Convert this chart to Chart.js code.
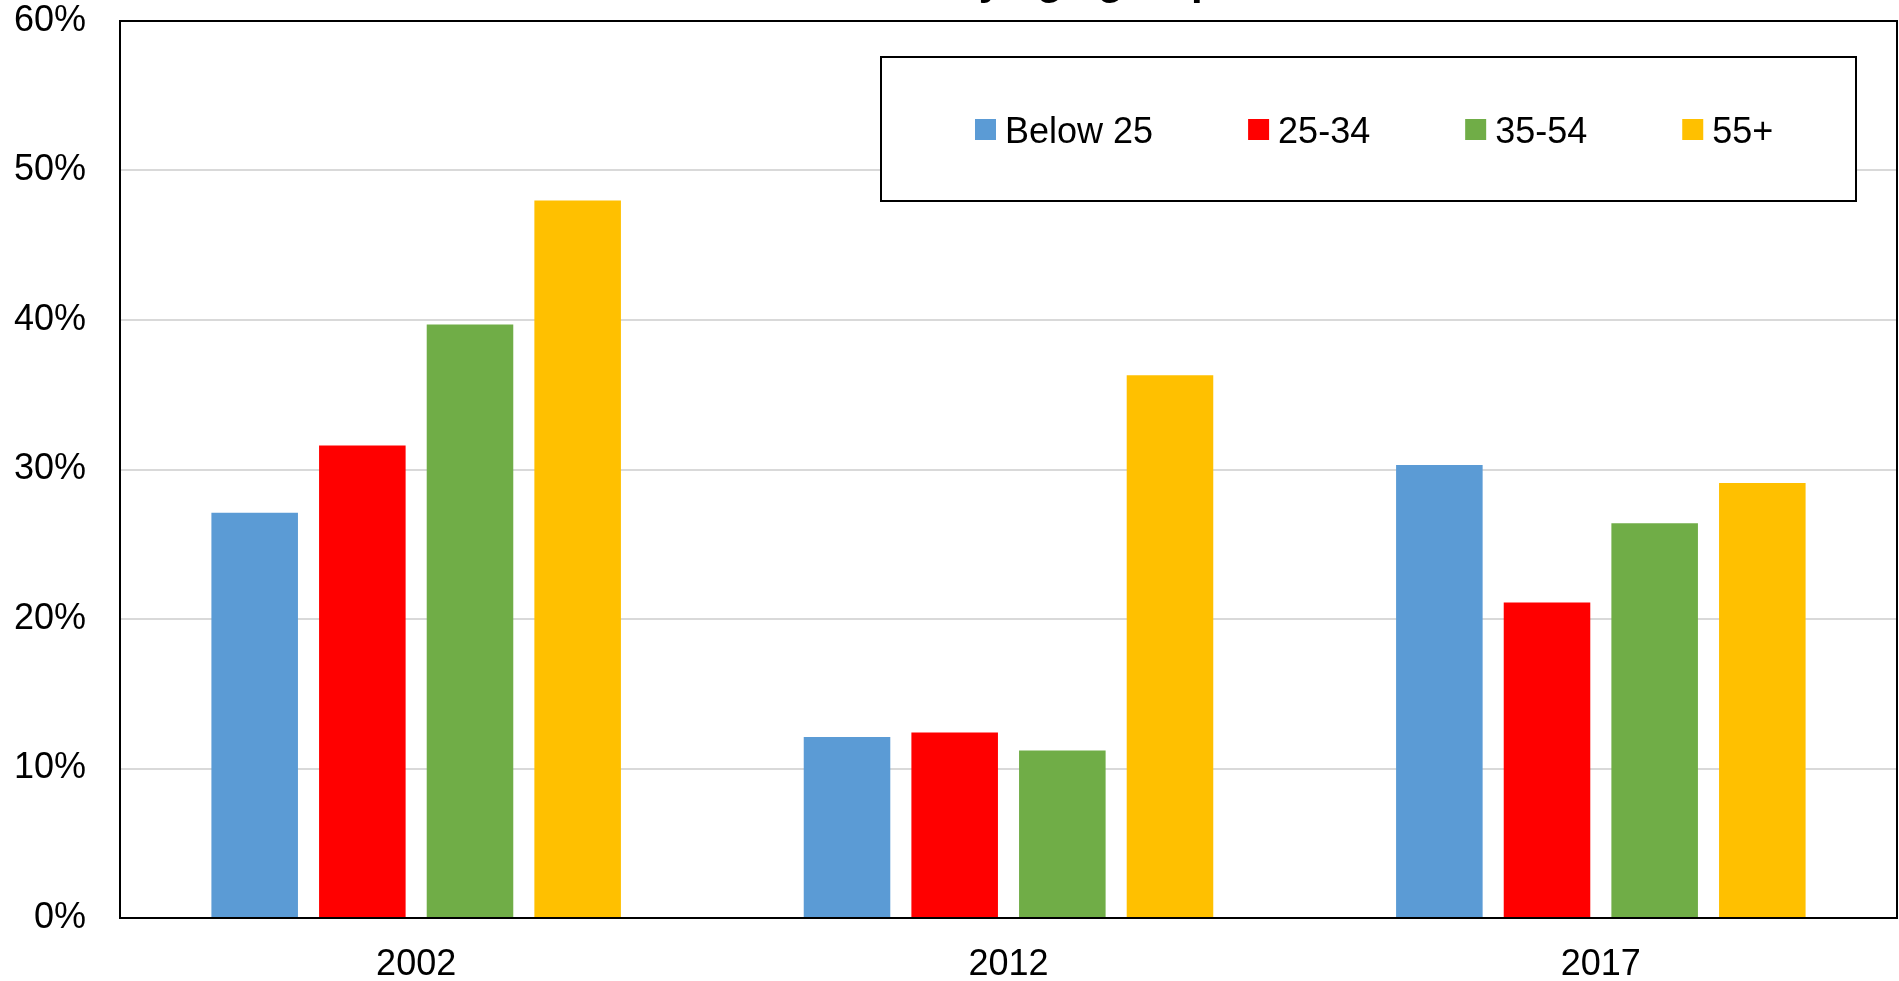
<!DOCTYPE html>
<html>
<head>
<meta charset="utf-8">
<script src="https://cdn.jsdelivr.net/npm/chart.js@4"></script>
<style>
  body { margin: 0; background: #ffffff; }
  #wrap { width: 1899px; height: 981px; }
</style>
</head>
<body>
<div id="wrap"><canvas id="ageChart" width="1899" height="981"></canvas></div>
<script>
// chart values
const categories = ['2002', '2012', '2017'];
const seriesNames = ['Below 25', '25-34', '35-54', '55+'];
const below25 = [27.1, 12.1, 30.3];
const age25to34 = [31.6, 12.4, 21.1];
const age35to54 = [39.7, 11.2, 26.4];
const age55plus = [48.0, 36.3, 29.1];
const yTicks = [0, 10, 20, 30, 40, 50, 60];
const titleText = 'by age group';

const colors = ['#5B9BD5', '#FF0000', '#70AD47', '#FFC000'];
const FONT = '"Liberation Sans", Arial, sans-serif';

// frame round the plot, boxed legend inside the plot, clipped title
const frameAndLegend = {
    id: 'frameAndLegend',
    afterDraw(chart) {
        const ctx = chart.ctx;
        const area = chart.chartArea;
        ctx.save();

        // title, mostly above the top edge of the picture
        ctx.fillStyle = '#000';
        ctx.font = 'bold 42px ' + FONT;
        ctx.textAlign = 'left';
        ctx.textBaseline = 'alphabetic';
        ctx.fillText(titleText, 953, -6);

        // plot frame
        ctx.strokeStyle = '#000';
        ctx.lineWidth = 2;
        ctx.strokeRect(area.left, area.top, area.right - area.left, area.bottom - area.top);

        // legend box
        const boxRight = area.right - 41;
        const boxLeft = boxRight - 975;
        const boxTop = area.top + 36;
        const boxH = 144;
        ctx.fillStyle = '#fff';
        ctx.fillRect(boxLeft, boxTop, boxRight - boxLeft, boxH);
        ctx.strokeRect(boxLeft, boxTop, boxRight - boxLeft, boxH);

        ctx.font = '36px ' + FONT;
        ctx.textBaseline = 'middle';
        const cy = boxTop + 72;
        let x = boxLeft + 94;
        chart.data.datasets.forEach(ds => {
            ctx.fillStyle = ds.backgroundColor;
            ctx.fillRect(x, cy - 10, 21, 21);
            ctx.fillStyle = '#000';
            ctx.fillText(ds.label, x + 30, cy + 4);
            x += 30 + ctx.measureText(ds.label).width + 95;
        });
        ctx.restore();
    }
};

const seriesData = [below25, age25to34, age35to54, age55plus];

new Chart(document.getElementById('ageChart').getContext('2d'), {
    type: 'bar',
    data: {
        labels: categories,
        datasets: seriesNames.map((name, i) => ({
            label: name,
            data: seriesData[i],
            backgroundColor: colors[i],
            borderWidth: 0,
            categoryPercentage: 0.727,
            barPercentage: 0.804
        }))
    },
    options: {
        responsive: false,
        animation: false,
        events: [],
        layout: { padding: { top: 21, right: 2, left: 0, bottom: 0 } },
        plugins: {
            legend: { display: false },
            tooltip: { enabled: false },
            title: { display: false }
        },
        scales: {
            x: {
                grid: { display: false },
                border: { display: false },
                ticks: {
                    color: '#000',
                    font: { family: FONT, size: 36 },
                    padding: 17,
                    maxRotation: 0
                },
                afterFit(scale) {
                    scale.height = 63;
                    scale.paddingLeft = 0;
                    scale.paddingRight = 0;
                }
            },
            y: {
                min: 0,
                max: 60,
                afterBuildTicks(scale) {
                    scale.ticks = yTicks.map(v => ({ value: v }));
                },
                grid: { color: '#d9d9d9', lineWidth: 2, drawTicks: false },
                border: { display: false },
                ticks: {
                    color: '#000',
                    font: { family: FONT, size: 36 },
                    padding: 34,
                    callback: v => v + '%'
                },
                afterFit(scale) {
                    scale.width = 120;
                    scale.paddingTop = 0;
                    scale.paddingBottom = 0;
                }
            }
        }
    },
    plugins: [frameAndLegend]
});
</script>
</body>
</html>
